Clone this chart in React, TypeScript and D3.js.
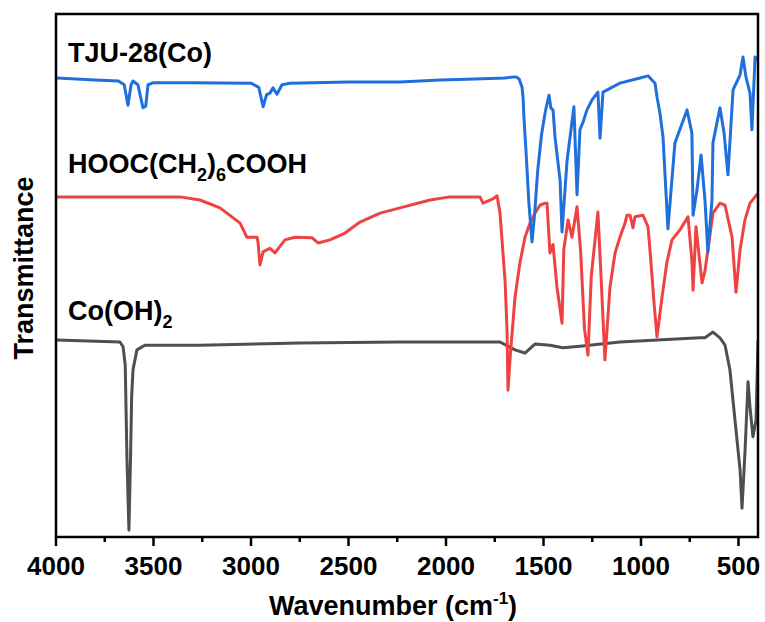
import React from "react";
import * as d3 from "d3";

// Wavenumber (cm-1) / transmittance (a.u., offset) pairs
const tjuWavenumber = [3995, 3800, 3680, 3650, 3631, 3615, 3605, 3580, 3554, 3540, 3528, 3500, 3300, 3000, 2960, 2938, 2920, 2903, 2887, 2867, 2841, 2800, 2500, 2236, 2031, 1850, 1700, 1640, 1625, 1610, 1605, 1600, 1590, 1575, 1559, 1545, 1530, 1510, 1490, 1472, 1462, 1451, 1441, 1415, 1405, 1379, 1344, 1328, 1313, 1297, 1277, 1251, 1221, 1210, 1195, 1108, 1005, 964, 928, 918, 903, 887, 862, 826, 764, 739, 733, 713, 692, 672, 657, 636, 631, 605, 595, 574, 554, 528, 492, 477, 462, 441, 431, 415, 400];
const tjuValue = [87.8, 87.4, 87.2, 86.5, 82.6, 86.5, 87.2, 86.5, 82.1, 82.4, 86.5, 86.9, 86.9, 86.8, 86.0, 82.3, 84.6, 84.9, 85.9, 84.7, 86.5, 86.8, 87.0, 87.0, 87.4, 87.6, 87.8, 88.0, 87.6, 86.0, 84.2, 80.0, 74.0, 64.0, 56.5, 62.0, 70.0, 77.0, 81.5, 84.5, 82.0, 81.7, 76.5, 68.3, 58.4, 72.1, 82.3, 65.5, 77.9, 79.4, 81.7, 83.6, 85.1, 76.3, 85.1, 86.8, 87.8, 88.2, 86.8, 84.2, 81.1, 76.5, 59.0, 75.4, 81.7, 77.3, 61.6, 66.4, 73.1, 64.5, 54.6, 64.5, 75.4, 80.3, 82.1, 77.3, 69.3, 85.5, 88.4, 91.8, 88.0, 84.9, 77.9, 91.8, 91.2];

const acidWavenumber = [3995, 3364, 3262, 3159, 3056, 3021, 2969, 2964, 2954, 2938, 2903, 2877, 2826, 2774, 2687, 2656, 2595, 2518, 2441, 2338, 2236, 2082, 1980, 1826, 1810, 1760, 1738, 1723, 1697, 1687, 1682, 1670, 1646, 1621, 1595, 1569, 1544, 1518, 1492, 1482, 1467, 1451, 1431, 1405, 1396, 1379, 1374, 1354, 1328, 1310, 1290, 1272, 1255, 1221, 1205, 1185, 1159, 1133, 1108, 1082, 1072, 1056, 1041, 1031, 990, 964, 954, 933, 918, 892, 867, 841, 800, 759, 739, 733, 718, 687, 672, 662, 631, 595, 569, 533, 513, 492, 467, 441, 400];
const acidValue = [65.1, 65.1, 64.5, 63.0, 60.1, 57.4, 57.4, 56.5, 52.1, 54.6, 55.3, 54.4, 56.9, 57.4, 57.3, 56.3, 56.9, 58.2, 60.3, 62.0, 63.0, 64.5, 65.1, 65.1, 63.9, 64.7, 65.3, 62.0, 49.0, 39.7, 28.2, 35.0, 46.0, 52.5, 57.4, 60.1, 62.0, 63.5, 63.9, 63.9, 54.4, 56.0, 47.9, 41.0, 55.0, 59.4, 60.7, 57.4, 63.2, 55.0, 40.0, 34.9, 50.0, 62.2, 50.0, 34.0, 47.9, 54.4, 57.4, 60.1, 61.6, 61.6, 59.2, 61.3, 61.6, 59.4, 55.0, 44.8, 38.4, 46.0, 52.7, 56.9, 58.8, 61.3, 53.0, 47.3, 59.4, 48.7, 51.0, 53.6, 62.0, 63.9, 63.5, 57.4, 46.9, 55.0, 60.7, 63.9, 65.8];

const cobaltWavenumber = [3995, 3672, 3656, 3645, 3636, 3626, 3618, 3612, 3605, 3585, 3544, 3262, 2749, 2236, 1723, 1646, 1595, 1544, 1467, 1400, 1313, 1108, 698, 672, 631, 595, 569, 544, 518, 492, 482, 467, 451, 441, 426, 410, 400];
const cobaltValue = [37.8, 37.4, 36.5, 33.0, 15.0, 1.5, 15.0, 27.0, 32.1, 35.9, 36.8, 36.8, 37.2, 37.4, 37.4, 35.9, 35.3, 37.0, 36.8, 36.3, 36.6, 37.4, 38.2, 38.2, 39.3, 38.2, 36.8, 32.1, 22.5, 13.0, 5.7, 16.2, 29.8, 25.0, 19.3, 22.5, 37.8];

const xTicksMajor = [4000, 3500, 3000, 2500, 2000, 1500, 1000, 500];
const xTicksMinor = [3750, 3250, 2750, 2250, 1750, 1250, 750];

const seriesColors = ["#1f6fdd", "#ef4242", "#4f4f4f"];

const W = 765, H = 622;
const L = 56, R = 758, T = 14, B = 537;
const FONT = "'Liberation Sans', Arial, Helvetica, sans-serif";

export default function App() {
  const x = d3.scaleLinear().domain([4000, 400]).range([L, R]);
  const y = d3.scaleLinear().domain([0, 100]).range([538, 14]);
  const line = d3.line<[number, number]>().x(d => x(d[0])).y(d => y(d[1]));
  const mk = (ws: number[], vs: number[]) => ws.map((w, i) => [w, vs[i]] as [number, number]);
  const series = [
    mk(tjuWavenumber, tjuValue),
    mk(acidWavenumber, acidValue),
    mk(cobaltWavenumber, cobaltValue),
  ];
  const drawOrder = [2, 1, 0];
  return (
    <svg width={W} height={H} style={{ position: "absolute", left: 0, top: 0, background: "#fff" }} fontFamily={FONT}>
      <defs>
        <clipPath id="plot">
          <rect x={L} y={T} width={R - L} height={B - T} />
        </clipPath>
      </defs>
      <g clipPath="url(#plot)">
        {drawOrder.map(i => (
          <path key={i} d={line(series[i]) || ""} fill="none" stroke={seriesColors[i]} strokeWidth={3} strokeLinejoin="round" />
        ))}
      </g>
      <rect x={L} y={T} width={R - L} height={B - T} fill="none" stroke="#000" strokeWidth={2.5} />
      {xTicksMajor.map(t => (
        <g key={t}>
          <line x1={x(t)} x2={x(t)} y1={B} y2={B + 9} stroke="#000" strokeWidth={2.5} />
          <text x={x(t)} y={575} textAnchor="middle" fontSize={26} fontWeight="bold">{t}</text>
        </g>
      ))}
      {xTicksMinor.map(t => (
        <line key={t} x1={x(t)} x2={x(t)} y1={B} y2={B + 5} stroke="#000" strokeWidth={2.5} />
      ))}
      <text x={393} y={615} textAnchor="middle" fontSize={27} fontWeight="bold">
        Wavenumber (cm<tspan dy={-11} fontSize={17}>-1</tspan><tspan dy={11}>)</tspan>
      </text>
      <text transform="translate(33,268) rotate(-90)" textAnchor="middle" fontSize={27} fontWeight="bold">Transmittance</text>
      <text x={68} y={62} fontSize={27} fontWeight="bold">TJU-28(Co)</text>
      <text x={68} y={173} fontSize={27} fontWeight="bold">
        HOOC(CH<tspan dy={8} fontSize={18}>2</tspan><tspan dy={-8}>)</tspan><tspan dy={8} fontSize={18}>6</tspan><tspan dy={-8}>COOH</tspan>
      </text>
      <text x={68} y={320} fontSize={27} fontWeight="bold">
        Co(OH)<tspan dy={8} fontSize={18}>2</tspan>
      </text>
    </svg>
  );
}
